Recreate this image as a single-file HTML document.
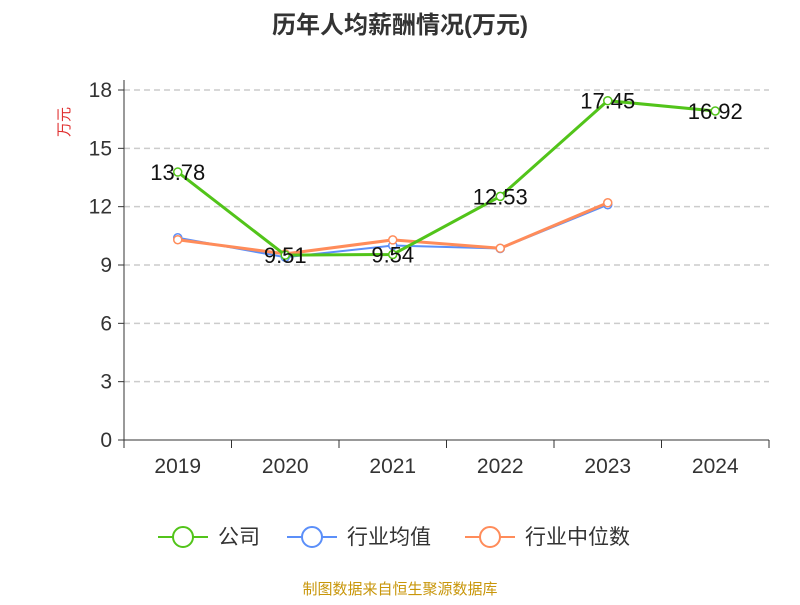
<!DOCTYPE html>
<html><head><meta charset="utf-8"><style>
body{margin:0;background:#fff;font-family:"Liberation Sans","Noto Sans CJK SC",sans-serif}
</style></head><body>
<svg id="c" width="800" height="600" xmlns="http://www.w3.org/2000/svg">
<text x="400" y="33" text-anchor="middle" font-size="24" font-weight="bold" fill="#333" font-family="Liberation Sans,Noto Sans CJK SC,sans-serif">历年人均薪酬情况(万元)</text>
<text x="69" y="122" text-anchor="middle" font-size="15" fill="#e03030" transform="rotate(-90 69 122)" font-family="Liberation Sans,Noto Sans CJK SC,sans-serif">万元</text>
<g id="grid"></g><g id="axes"></g><g id="series"></g>
<g font-size="21" fill="#333" font-family="Liberation Sans,Noto Sans CJK SC,sans-serif">
<g><line x1="158" y1="537" x2="208" y2="537" stroke="#52c41a" stroke-width="2"/><circle cx="183" cy="537" r="10" fill="#fff" stroke="#52c41a" stroke-width="2"/><text x="218" y="544">公司</text></g>
<g><line x1="287" y1="537" x2="337" y2="537" stroke="#5b8ff9" stroke-width="2"/><circle cx="312" cy="537" r="10" fill="#fff" stroke="#5b8ff9" stroke-width="2"/><text x="347" y="544">行业均值</text></g>
<g><line x1="465" y1="537" x2="515" y2="537" stroke="#ff8c5a" stroke-width="2"/><circle cx="490" cy="537" r="10" fill="#fff" stroke="#ff8c5a" stroke-width="2"/><text x="525" y="544">行业中位数</text></g>
</g>
<text x="400" y="594" text-anchor="middle" font-size="15" fill="#c8960a" font-family="Liberation Sans,Noto Sans CJK SC,sans-serif">制图数据来自恒生聚源数据库</text>
</svg>
<script>
const categories=["2019","2020","2021","2022","2023","2024"];
const companyValues=[13.78,9.51,9.54,12.53,17.45,16.92];
const industryAvg=[10.4,9.4,10.0,9.85,12.1,null];
const industryMedian=[10.3,9.57,10.29,9.86,12.2,null];
const yTicks=[0,3,6,9,12,15,18];
const NS="http://www.w3.org/2000/svg";
const x0=124,x1=769,yb=440,yt=90,ymax=18;
const bw=(x1-x0)/categories.length;
const xs=i=>x0+bw*(i+0.5);
const ys=v=>yb-(v/ymax)*(yb-yt);
function mk(tag,attrs,parent){const e=document.createElementNS(NS,tag);for(const k in attrs)e.setAttribute(k,attrs[k]);parent.appendChild(e);return e;}
const grid=document.getElementById('grid'),axes=document.getElementById('axes'),ser=document.getElementById('series');
yTicks.forEach(t=>{
 const y=ys(t);
 if(t>0){const g=mk('line',{x1:x0,x2:x1,y1:y,y2:y,stroke:'#ccc','stroke-dasharray':'6,4','stroke-width':1.5},grid);
 
 }
 const tk=mk('line',{x1:x0-6,x2:x0,y1:y,y2:y,stroke:'#333'},axes);
 
 
 const l=mk('text',{x:x0-12,y:y+7,'text-anchor':'end','font-size':21,fill:'#333'},axes);l.textContent=t;
 
 
});
const ya=mk('line',{x1:x0,x2:x0,y1:yt-10,y2:yb,stroke:'#333'},axes);


const xa=mk('line',{x1:x0,x2:x1,y1:yb,y2:yb,stroke:'#333'},axes);


for(let i=0;i<=categories.length;i++){const t=mk('line',{x1:x0+bw*i,x2:x0+bw*i,y1:yb,y2:yb+8,stroke:'#333'},axes);
 
 }
categories.forEach((c,i)=>{const l=mk('text',{x:xs(i),y:473,'text-anchor':'middle','font-size':21,fill:'#333'},axes);l.textContent=c;
 
 });
function series(vals,color,w,name,labels){
 const pts=vals.map((v,i)=>v==null?null:[xs(i),ys(v)]).filter(p=>p);
 const pl=mk('polyline',{points:pts.map(p=>p.join(',')).join(' '),fill:'none',stroke:color,'stroke-width':w},ser);
 
 
 vals.forEach((v,i)=>{if(v==null)return;
  const c=mk('circle',{cx:xs(i),cy:ys(v),r:4,fill:'#fff',stroke:color,'stroke-width':1.5},ser);
  
  
  if(labels){const t=mk('text',{x:xs(i),y:ys(v)+8,'text-anchor':'middle','font-size':22,fill:'#111'},ser);t.textContent=v.toFixed(2);
   
   }
 });
}
series(industryAvg,'#5b8ff9',2,'industry-avg',false);
series(industryMedian,'#ff8c5a',3,'industry-median',false);
series(companyValues,'#52c41a',3,'company',true);
</script>
</body></html>
